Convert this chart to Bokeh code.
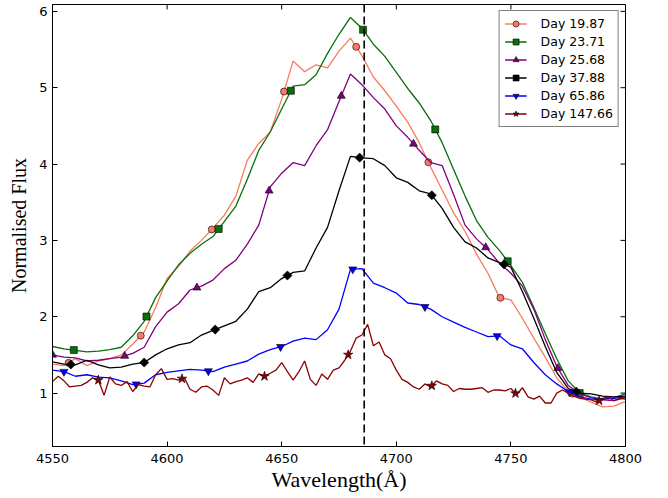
import numpy as np
from bokeh.plotting import figure
from bokeh.models import Range1d, FixedTicker, Span, Legend, LegendItem
from bokeh.embed import file_html
from bokeh.resources import INLINE

# ---------------- data ----------------
wl5 = np.arange(4550, 4800.1, 5.0)    # wavelength grid (Angstrom), 5 A sampling
wl25 = np.arange(4550, 4800.1, 2.5)   # finer grid for late-time noisy spectrum

flux_d19_87 = [1.38, 1.36, 1.45, 1.36, 1.42, 1.45, 1.50, 1.64, 1.80, 2.12,
               2.50, 2.66, 2.86, 3.00, 3.16, 3.33, 3.58, 4.05, 4.27, 4.42,
               4.85, 5.35, 5.21, 5.30, 5.26, 5.48, 5.65, 5.42, 5.14, 4.96,
               4.76, 4.55, 4.28, 3.96, 3.66, 3.36, 3.12, 2.82, 2.57, 2.25,
               2.22, 1.98, 1.72, 1.47, 1.20, 1.02, 0.95, 0.88, 0.82, 0.83, 0.89]

flux_d23_71 = [1.61, 1.58, 1.56, 1.54, 1.55, 1.57, 1.60, 1.75, 1.94, 2.25,
               2.47, 2.68, 2.83, 2.95, 3.05, 3.25, 3.45, 3.80, 4.18, 4.42,
               4.72, 5.02, 5.04, 5.17, 5.45, 5.70, 5.92, 5.78, 5.57, 5.41,
               5.20, 4.99, 4.80, 4.57, 4.28, 3.93, 3.58, 3.26, 3.04, 2.87,
               2.67, 2.45, 2.12, 1.78, 1.45, 1.16, 1.00, 0.95, 0.92, 0.94, 0.99]

flux_d25_68 = [1.50, 1.47, 1.46, 1.42, 1.43, 1.45, 1.47, 1.52, 1.60, 1.87,
               2.06, 2.17, 2.35, 2.40, 2.48, 2.63, 2.74, 2.95, 3.20, 3.70,
               3.88, 4.02, 3.98, 4.24, 4.45, 4.82, 5.18, 5.04, 4.87, 4.72,
               4.50, 4.35, 4.18, 4.02, 3.98, 3.60, 3.20, 3.02, 2.88, 2.70,
               2.57, 2.40, 2.10, 1.70, 1.35, 1.10, 0.99, 0.94, 0.91, 0.90, 0.94]

flux_d37_88 = [1.41, 1.38, 1.37, 1.43, 1.37, 1.33, 1.34, 1.38, 1.40, 1.50,
               1.58, 1.63, 1.66, 1.76, 1.82, 1.88, 1.94, 2.10, 2.33, 2.38,
               2.50, 2.58, 2.60, 2.90, 3.17, 3.65, 4.10, 4.08, 4.07, 3.98,
               3.82, 3.76, 3.65, 3.61, 3.42, 3.17, 2.98, 2.90, 2.77, 2.71,
               2.65, 2.33, 1.98, 1.61, 1.27, 1.06, 1.00, 0.99, 0.96, 0.95, 0.96]

flux_d65_86 = [1.30, 1.28, 1.22, 1.24, 1.21, 1.20, 1.16, 1.11, 1.13, 1.24,
               1.27, 1.29, 1.31, 1.30, 1.28, 1.34, 1.38, 1.42, 1.51, 1.57,
               1.61, 1.68, 1.72, 1.70, 1.83, 2.10, 2.62, 2.63, 2.44, 2.38,
               2.31, 2.18, 2.16, 2.10, 2.00, 1.93, 1.86, 1.80, 1.74, 1.75,
               1.63, 1.58, 1.40, 1.24, 1.12, 1.02, 0.95, 0.92, 0.92, 0.93, 0.95]

flux_d147_66 = [1.15, 1.22, 1.16, 1.08, 1.09, 1.10, 1.14, 1.20, 1.17, 0.97,
                1.21, 1.12, 1.10, 1.15, 1.02, 1.11, 1.09, 1.08, 1.24, 1.32,
                1.18, 1.19, 1.17, 1.20, 1.05, 1.01, 1.08, 1.09, 1.04, 0.97,
                1.20, 1.12, 1.15, 1.17, 1.20, 1.14, 1.25, 1.22, 1.26, 1.30,
                1.40, 1.28, 1.17, 1.28, 1.42, 1.18, 1.10, 1.25, 1.18, 1.30,
                1.33, 1.43, 1.55, 1.72, 1.76, 1.90, 1.62, 1.67, 1.50, 1.45,
                1.30, 1.18, 1.14, 1.08, 1.05, 1.12, 1.08, 1.16, 1.12, 1.10,
                1.02, 1.06, 1.05, 1.05, 1.06, 1.07, 1.01, 1.04, 1.04, 1.03,
                1.06, 0.98, 1.07, 0.95, 0.92, 0.96, 0.87, 0.87, 1.00, 1.04,
                1.00, 0.96, 0.93, 0.92, 0.91, 0.88, 0.93, 0.95, 0.90, 0.93, 0.92]

# wavelengths at which markers are drawn (markevery positions)
mk_d19_87 = [4557, 4588.5, 4619.5, 4651, 4682.5, 4714, 4745.4, 4777]
mk_d23_71 = [4559.3, 4591, 4622.5, 4654, 4685.5, 4717, 4748.6, 4780]
mk_d25_68 = [4550, 4581.5, 4613, 4644.5, 4676, 4707.5, 4739, 4770.5]
mk_d37_88 = [4558, 4590, 4621, 4652.5, 4684, 4715.5, 4747, 4778.5]
mk_d65_86 = [4555, 4586.5, 4618, 4649.5, 4681, 4712.5, 4744, 4775.5]
mk_d147_66 = [4570, 4606.5, 4642.5, 4679, 4715.5, 4752, 4788.5]

labels = ["Day 19.87", "Day 23.71", "Day 25.68", "Day 37.88", "Day 65.86", "Day 147.66"]
he_ii = 4686.0

x_lo, x_hi = 4550, 4800
y_lo, y_hi = 0.3, 6.09
x_ticks = [4550, 4600, 4650, 4700, 4750, 4800]
y_ticks = [1, 2, 3, 4, 5, 6]

# ---------------- styles ----------------
FRAME_W, FRAME_H = 573, 442
TICK_PX = 5
series = [
    (wl5, flux_d19_87, mk_d19_87, "#FA7A62", "circle", 7, 0),
    (wl5, flux_d23_71, mk_d23_71, "#0A6E0A", "square", 7, 0),
    (wl5, flux_d25_68, mk_d25_68, "#800080", "triangle", 8, 0),
    (wl5, flux_d37_88, mk_d37_88, "#000000", "square", 6.5, np.pi / 4),
    (wl5, flux_d65_86, mk_d65_86, "#0000FF", "inverted_triangle", 8, 0),
    (wl25, flux_d147_66, mk_d147_66, "#8B0000", "star", 10, 0),
]

p = figure(frame_width=FRAME_W, frame_height=FRAME_H,
           min_border_left=52, min_border_right=43, min_border_top=4, min_border_bottom=52,
           x_range=Range1d(x_lo, x_hi), y_range=Range1d(y_lo, y_hi),
           output_backend="svg", toolbar_location=None,
           background_fill_color="white", border_fill_color="white")
p.grid.visible = False
p.outline_line_color = "black"
p.outline_line_width = 1

items = []
for (wl, fl, mk, col, mrk, sz, ang), lab in zip(series, labels):
    wl_arr = np.asarray(wl)
    fl_arr = np.asarray(fl)
    r1 = p.line(wl_arr, fl_arr, line_color=col, line_width=1.3)
    mk_y = np.interp(mk, wl_arr, fl_arr)
    r2 = p.scatter(mk, mk_y, marker=mrk, size=sz, angle=ang, fill_color=col,
                   line_color="black", line_width=0.6)
    items.append(LegendItem(label=lab, renderers=[r1, r2]))

p.add_layout(Span(location=he_ii, dimension="height", line_color="black",
                  line_dash="8 4", line_width=1.6))

# inward ticks on the top and right edges (mirror of bottom/left ticks)
dy_tick = TICK_PX * (y_hi - y_lo) / FRAME_H
dx_tick = TICK_PX * (x_hi - x_lo) / FRAME_W
p.segment(x0=x_ticks, y0=[y_hi] * len(x_ticks), x1=x_ticks,
          y1=[y_hi - dy_tick] * len(x_ticks), line_color="black", line_width=1)
p.segment(x0=[x_hi] * len(y_ticks), y0=y_ticks, x1=[x_hi - dx_tick] * len(y_ticks),
          y1=y_ticks, line_color="black", line_width=1)

for ax, ticks in ((p.xaxis[0], x_ticks), (p.yaxis[0], y_ticks)):
    ax.ticker = FixedTicker(ticks=ticks)
    ax.major_tick_in = TICK_PX
    ax.major_tick_out = 0
    ax.minor_tick_line_color = None
    ax.major_tick_line_color = "black"
    ax.axis_line_color = "black"
    ax.major_label_text_font = "DejaVu Sans"
    ax.major_label_text_font_size = "13px"
    ax.major_label_text_color = "black"
    ax.axis_label_text_font = "Liberation Serif"
    ax.axis_label_text_font_style = "normal"
    ax.axis_label_text_color = "black"

p.xaxis[0].major_label_standoff = 7
p.yaxis[0].major_label_standoff = 5
p.xaxis[0].axis_label = "Wavelength(Å)"
p.xaxis[0].axis_label_text_font_size = "22px"
p.xaxis[0].axis_label_standoff = 1
p.yaxis[0].axis_label = "Normalised Flux"
p.yaxis[0].axis_label_text_font_size = "20px"
p.yaxis[0].axis_label_standoff = 6

legend = Legend(items=items, location="top_right")
legend.margin = 6
legend.padding = 5
legend.spacing = 3
legend.label_height = 15
legend.glyph_height = 15
legend.glyph_width = 22
legend.label_standoff = 14
legend.label_text_font = "DejaVu Sans"
legend.label_text_font_size = "12.5px"
legend.label_text_color = "black"
legend.border_line_color = "black"
legend.border_line_width = 1
legend.background_fill_color = "white"
legend.background_fill_alpha = 1.0
p.add_layout(legend)

open("out.html", "w").write(file_html(p, INLINE))
